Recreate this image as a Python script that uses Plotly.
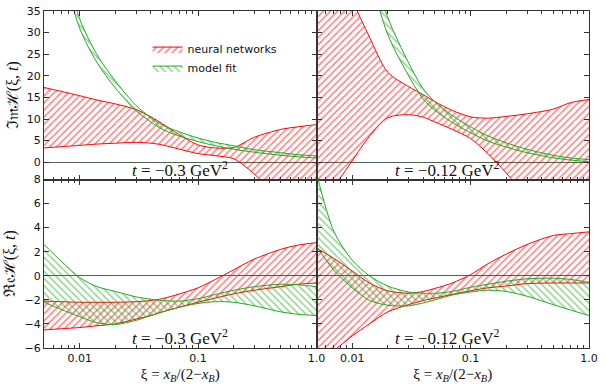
import numpy as np
import plotly.graph_objects as go
from plotly.subplots import make_subplots

# common xi grid (log spaced reading points)
xi = [0.005, 0.007, 0.01, 0.014, 0.02, 0.03, 0.04, 0.05, 0.07, 0.1, 0.14, 0.2, 0.3, 0.5, 0.7, 1.0]

# Im H, t = -0.3 GeV^2
im03_nn_lo = [3.3, 3.6, 3.9, 4.2, 4.4, 4.6, 4.4, 4.0, 3.0, 2.0, 1.5, 0.8, -2.8, -9.0, -13.0, -15.0]
im03_nn_hi = [17.3, 16.4, 15.4, 14.4, 13.5, 12.2, 10.5, 8.9, 6.3, 4.0, 3.3, 3.4, 5.8, 7.6, 8.2, 8.7]
im03_fit_lo = [72.0, 46.5, 31.0, 23.1, 17.2, 11.9, 9.3, 7.6, 6.0, 4.8, 3.8, 3.0, 2.3, 1.6, 1.25, 0.95]
im03_fit_hi = [78.0, 49.5, 33.2, 24.9, 18.8, 13.1, 10.3, 8.6, 7.0, 5.6, 4.6, 3.8, 2.9, 2.2, 1.75, 1.45]

# Im H, t = -0.12 GeV^2
im012_nn_lo = [-14.0, -6.0, 0.3, 6.0, 10.3, 11.0, 10.4, 9.3, 7.6, 5.5, 2.0, -2.5, -8.0, -14.0, -17.0, -20.0]
im012_nn_hi = [75.0, 55.0, 38.0, 29.0, 20.8, 17.5, 15.6, 14.0, 12.0, 10.5, 10.2, 10.6, 11.2, 12.3, 13.8, 14.5]
im012_fit_lo = [116.0, 87.0, 63.0, 44.0, 29.5, 20.0, 14.5, 12.0, 9.2, 6.8, 4.9, 3.5, 2.2, 1.0, 0.5, 0.1]
im012_fit_hi = [124.0, 93.0, 67.0, 48.0, 33.5, 23.0, 16.9, 14.0, 10.8, 8.2, 6.1, 4.5, 3.0, 1.6, 1.0, 0.6]

# Re H, t = -0.3 GeV^2
re03_nn_lo = [-4.5, -4.4, -4.3, -4.15, -4.0, -3.6, -3.3, -3.0, -2.6, -2.2, -1.85, -1.5, -1.2, -0.9, -0.7, -0.6]
re03_nn_hi = [-2.1, -2.15, -2.2, -2.2, -2.2, -2.15, -2.05, -1.9, -1.5, -1.0, -0.3, 0.5, 1.4, 2.2, 2.55, 2.75]
re03_fit_lo = [-2.2, -2.8, -3.4, -3.9, -4.05, -3.7, -3.3, -3.0, -2.6, -2.3, -2.15, -2.2, -2.5, -3.0, -3.2, -3.3]
re03_fit_hi = [2.6, 1.2, -0.15, -0.9, -1.3, -1.75, -1.95, -2.05, -2.1, -1.9, -1.55, -1.2, -0.9, -0.7, -0.75, -0.9]

# Re H, t = -0.12 GeV^2
re012_nn_lo = [-7.0, -6.2, -5.0, -4.0, -3.0, -2.4, -2.05, -1.85, -1.55, -1.25, -1.0, -0.85, -0.65, -0.6, -0.6, -0.6]
re012_nn_hi = [2.3, 1.45, 0.4, -0.6, -1.25, -1.45, -1.3, -1.05, -0.6, 0.1, 1.0, 1.8, 2.6, 3.35, 3.5, 3.65]
re012_fit_lo = [2.45, 0.45, -1.0, -2.05, -2.45, -2.5, -2.25, -2.0, -1.6, -1.35, -1.2, -1.3, -1.7, -2.4, -2.85, -3.3]
re012_fit_hi = [8.5, 3.7, 1.3, 0.0, -0.85, -1.35, -1.45, -1.45, -1.3, -0.95, -0.7, -0.45, -0.25, -0.2, -0.3, -0.55]

t_labels = ["\u22120.3", "\u22120.12"]

panels = [
    (1, 1, im03_nn_lo, im03_nn_hi, im03_fit_lo, im03_fit_hi),
    (1, 2, im012_nn_lo, im012_nn_hi, im012_fit_lo, im012_fit_hi),
    (2, 1, re03_nn_lo, re03_nn_hi, re03_fit_lo, re03_fit_hi),
    (2, 2, re012_nn_lo, re012_nn_hi, re012_fit_lo, re012_fit_hi),
]

RED = "#ff0000"
GREEN = "#22aa22"
CLEAR = "rgba(0,0,0,0)"
SERIF = "Liberation Serif"

fig = make_subplots(rows=2, cols=2, horizontal_spacing=0, vertical_spacing=0)

for row, col, nlo, nhi, flo, fhi in panels:
    first = (row == 1 and col == 1)
    # neural networks band
    fig.add_trace(go.Scatter(x=xi, y=nlo, mode="lines", line=dict(color=RED, width=1, shape="spline", smoothing=0.8),
                             showlegend=False, hoverinfo="skip"), row=row, col=col)
    fig.add_trace(go.Scatter(x=xi, y=nhi, mode="lines", line=dict(color=RED, width=1, shape="spline", smoothing=0.8),
                             fill="tonexty", fillcolor=CLEAR,
                             fillpattern=dict(shape="/", fgcolor=RED, bgcolor=CLEAR, size=5, solidity=0.3),
                             name="neural networks", showlegend=first), row=row, col=col)
    # model fit band
    fig.add_trace(go.Scatter(x=xi, y=flo, mode="lines", line=dict(color=GREEN, width=1, shape="spline", smoothing=0.8),
                             showlegend=False, hoverinfo="skip"), row=row, col=col)
    fig.add_trace(go.Scatter(x=xi, y=fhi, mode="lines", line=dict(color=GREEN, width=1, shape="spline", smoothing=0.8),
                             fill="tonexty", fillcolor=CLEAR,
                             fillpattern=dict(shape="\\", fgcolor=GREEN, bgcolor=CLEAR, size=5, solidity=0.3),
                             name="model fit", showlegend=first), row=row, col=col)

minor_vals = [d * 10.0 ** e for e in (-3, -2, -1) for d in range(2, 10) if 0.005 <= d * 10.0 ** e <= 1.0]

for row in (1, 2):
    for col in (1, 2):
        fig.update_xaxes(type="log", range=[np.log10(0.005), 0], automargin=False,
                         tickvals=[0.01, 0.1, 1.0], ticktext=["0.01", "0.1", "1.0"],
                         ticks="inside", ticklen=5, tickcolor="#333", showline=True, linecolor="#333",
                         linewidth=1, mirror="allticks", showgrid=False, zeroline=False,
                         showticklabels=(row == 2), ticklabeloverflow="allow",
                         minor=dict(tickvals=minor_vals, ticks="inside", ticklen=3, tickcolor="#333"),
                         tickfont=dict(family="DejaVu Sans", size=11, color="#111"),
                         row=row, col=col)
        if row == 1:
            yr, dt = [-4, 35], 5
        else:
            yr, dt = [-6, 8], 2
        fig.update_yaxes(range=yr, dtick=dt, tick0=0, automargin=False,
                         ticks="inside", ticklen=5, tickcolor="#333",
                         showline=True, linecolor="#333", linewidth=1, mirror="allticks",
                         showgrid=False, zeroline=True, zerolinecolor="#4f644f", zerolinewidth=1,
                         showticklabels=(col == 1), ticklabeloverflow="allow",
                         tickfont=dict(family="DejaVu Sans", size=11, color="#111"),
                         row=row, col=col)

xtitle = "\u03be = <i>x</i><sub><i>B</i></sub>/(2\u2212<i>x</i><sub><i>B</i></sub>)"
for col in (1, 2):
    fig.update_xaxes(title=dict(text=xtitle, font=dict(family=SERIF, size=15, color="#111"), standoff=4),
                     row=2, col=col)
fig.update_yaxes(title=dict(text="\u2111\U0001D52A\u210B(\u03be, <i>t</i>)",
                            font=dict(family=SERIF, size=16, color="#111"), standoff=4), row=1, col=1)
fig.update_yaxes(title=dict(text="\u211C\U0001D522\u210B(\u03be, <i>t</i>)",
                            font=dict(family=SERIF, size=16, color="#111"), standoff=4), row=2, col=1)

# t labels in each panel
axis_names = {(1, 1): ("x", "y"), (1, 2): ("x2", "y2"), (2, 1): ("x3", "y3"), (2, 2): ("x4", "y4")}
for (row, col), (xa, ya) in axis_names.items():
    fig.add_annotation(text="<i>t</i> = " + t_labels[col - 1] + " GeV<sup>2</sup>",
                       xref=xa + " domain", yref=ya + " domain",
                       x=0.5 if col == 1 else 0.48, y=0.065, xanchor="center", yanchor="middle",
                       showarrow=False, font=dict(family=SERIF, size=17, color="#111"))

fig.update_layout(
    width=606, height=385,
    margin=dict(l=44, r=17, t=11, b=37, autoexpand=False),
    plot_bgcolor="white", paper_bgcolor="white",
    legend=dict(x=0.19, y=0.93, xanchor="left", yanchor="top", bgcolor=CLEAR, traceorder="normal",
                font=dict(family="DejaVu Sans", size=11, color="#111"), tracegroupgap=0,
                itemwidth=30),
)

# drop the browser's default body margin so the figure sits at the page corner
fig.write_html("out.html", config={"displayModeBar": False},
               post_script="document.body.style.margin = '0px';")
